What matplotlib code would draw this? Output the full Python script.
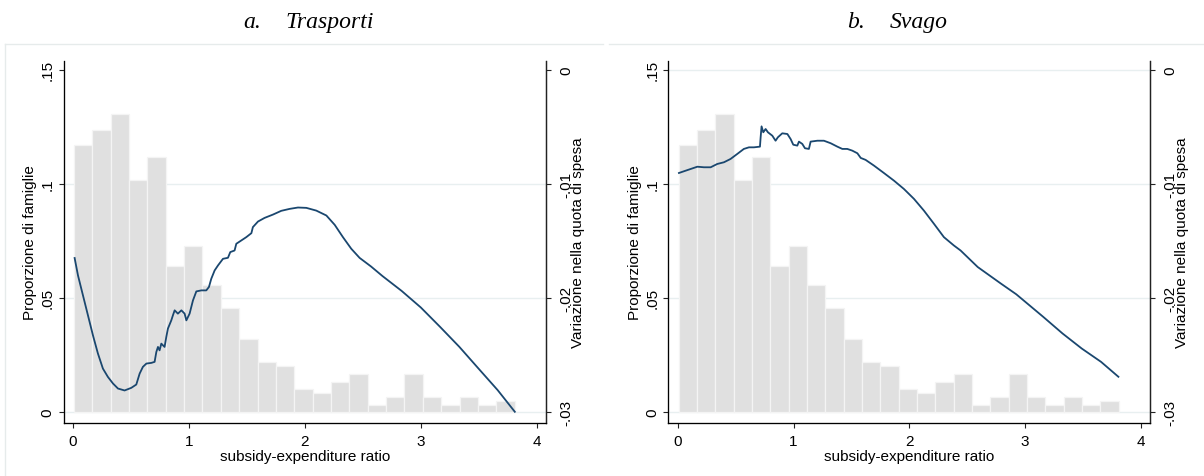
import matplotlib
matplotlib.use("Agg")
import matplotlib.pyplot as plt
from matplotlib.lines import Line2D

# ---- data -------------------------------------------------------------
share_ticks = [0.0, 0.05, 0.10, 0.15]
share_labels = ["0", ".05", ".1", ".15"]
change_ticks = [-0.03, -0.02, -0.01, 0.0]
change_labels = ["-.03", "-.02", "-.01", "0"]
ratio_ticks = [0, 1, 2, 3, 4]

# histogram of the subsidy-expenditure ratio (24 equal bins)
hist_lo, hist_hi = 0.006, 3.81
hist_share = [0.1171, 0.1237, 0.1306, 0.1018, 0.1117, 0.0641, 0.0727, 0.0558,
              0.0457, 0.0320, 0.0219, 0.0202, 0.0102, 0.0082, 0.0131, 0.0166,
              0.0031, 0.0066, 0.0166, 0.0066, 0.0031, 0.0066, 0.0031, 0.0048]

# change in expenditure share, transport
trasporti_x = [0.013, 0.042, 0.085, 0.128, 0.171, 0.214, 0.257, 0.300, 0.344,
               0.387, 0.444, 0.502, 0.545, 0.574, 0.602, 0.632, 0.675, 0.703,
               0.718, 0.732, 0.746, 0.761, 0.789, 0.804, 0.818, 0.847, 0.861,
               0.876, 0.904, 0.934, 0.962, 0.977, 1.005, 1.034, 1.063, 1.106,
               1.149, 1.172, 1.192, 1.221, 1.250, 1.293, 1.336, 1.356, 1.393,
               1.408, 1.451, 1.494, 1.538, 1.551, 1.595, 1.652, 1.724, 1.796,
               1.868, 1.940, 2.012, 2.098, 2.185, 2.257, 2.328, 2.400, 2.472,
               2.570, 2.670, 2.835, 3.000, 3.166, 3.332, 3.497, 3.663, 3.811]
trasporti_y = [-0.01651, -0.01804, -0.01979, -0.02154, -0.02329, -0.02489,
               -0.02621, -0.02694, -0.02752, -0.02796, -0.02813, -0.02790,
               -0.02761, -0.02665, -0.02606, -0.02577, -0.02571, -0.02562,
               -0.02475, -0.02431, -0.02461, -0.02402, -0.02431, -0.02343,
               -0.02270, -0.02198, -0.02154, -0.02110, -0.02139, -0.02110,
               -0.02139, -0.02198, -0.02139, -0.02023, -0.01944, -0.01935,
               -0.01935, -0.01905, -0.01833, -0.01760, -0.01716, -0.01658,
               -0.01649, -0.01599, -0.01585, -0.01526, -0.01497, -0.01468,
               -0.01433, -0.01380, -0.01331, -0.01299, -0.01270, -0.01237,
               -0.01220, -0.01208, -0.01211, -0.01235, -0.01278, -0.01360,
               -0.01468, -0.01570, -0.01650, -0.01725, -0.01810, -0.01940,
               -0.02085, -0.02255, -0.02430, -0.02620, -0.02810, -0.03000]

# change in expenditure share, leisure
svago_x = [0.009, 0.052, 0.110, 0.168, 0.225, 0.283, 0.340, 0.398, 0.455, 0.513,
           0.570, 0.614, 0.657, 0.709, 0.715, 0.723, 0.738, 0.758, 0.778, 0.816,
           0.844, 0.864, 0.902, 0.946, 0.974, 0.997, 1.032, 1.046, 1.075, 1.098,
           1.132, 1.147, 1.205, 1.262, 1.320, 1.378, 1.421, 1.464, 1.507, 1.551,
           1.580, 1.622, 1.694, 1.780, 1.867, 1.953, 2.040, 2.126, 2.213, 2.299,
           2.385, 2.443, 2.591, 2.791, 2.924, 3.157, 3.324, 3.490, 3.657, 3.807]
svago_y = [-0.00905, -0.00890, -0.00870, -0.00850, -0.00855, -0.00855, -0.00826,
           -0.00811, -0.00782, -0.00738, -0.00694, -0.00680, -0.00680, -0.00674,
           -0.00592, -0.00496, -0.00548, -0.00519, -0.00548, -0.00578, -0.00622,
           -0.00592, -0.00557, -0.00563, -0.00607, -0.00657, -0.00665, -0.00630,
           -0.00650, -0.00688, -0.00694, -0.00630, -0.00622, -0.00622, -0.00644,
           -0.00674, -0.00694, -0.00694, -0.00709, -0.00732, -0.00773, -0.00790,
           -0.00840, -0.00905, -0.00972, -0.01045, -0.01132, -0.01235, -0.01351,
           -0.01468, -0.01541, -0.01585, -0.01730, -0.01875, -0.01969, -0.02167,
           -0.02313, -0.02445, -0.02562, -0.02693]

panels = [
    ("a.", "Trasporti", trasporti_x, trasporti_y, [0.0, 0.05, 0.10]),
    ("b.", "Svago", svago_x, svago_y, [0.0, 0.05, 0.10, 0.15]),
]

# ---- style --------------------------------------------------------------
W, H = 1204, 477
SANS = "Liberation Sans"
SERIF = "Liberation Serif"
BAR = "#e0e0e0"
BAR_EDGE = "#f4f4f4"
LINE = "#1a476f"
GRID = "#e8eff0"
FRAME = "#e6ebeb"
AXC = "#222222"

plt.rcParams["font.family"] = [SANS, "DejaVu Sans"]

fig = plt.figure(figsize=(W / 100, H / 100), dpi=100)
fig.patch.set_facecolor("white")


def fx(px):
    return px / W


def fy(py):
    return 1 - py / H


# left/right spine positions (px) for each panel
spines_px = [(63.5, 546.0), (668.3, 1150.0)]
top_px, bottom_px = 61.7, 423.5

n_bins = len(hist_share)
bin_w = (hist_hi - hist_lo) / n_bins
bin_left = [hist_lo + i * bin_w for i in range(n_bins)]

share_lim = (-0.0047, 0.154)
change_lim = (0.2 * share_lim[0] - 0.03, 0.2 * share_lim[1] - 0.03)

for (lab, name, lx, ly, grid_at), (xl, xr) in zip(panels, spines_px):
    ax = fig.add_axes([fx(xl), fy(bottom_px), fx(xr - xl), (bottom_px - top_px) / H])
    ax.set_facecolor("none")
    for yv in grid_at:
        ax.axhline(yv, color=GRID, lw=1.0, zorder=0)
    ax.bar(bin_left, hist_share, width=bin_w, align="edge", color=BAR,
           edgecolor=BAR_EDGE, linewidth=0.9, zorder=1)
    ax.set_xlim(-0.083, 4.08)
    ax.set_ylim(*share_lim)
    ax.set_xticks(ratio_ticks)
    ax.set_xticklabels([str(t) for t in ratio_ticks])
    ax.set_yticks(share_ticks)
    ax.set_yticklabels(share_labels, rotation=90, va="center")
    ax.tick_params(axis="both", direction="out", length=3.6, width=0.8,
                   color=AXC, labelsize=11, labelcolor="black")
    ax.tick_params(axis="x", pad=4.5)
    ax.tick_params(axis="y", pad=3)
    for s in ["top"]:
        ax.spines[s].set_visible(False)
    for s in ["left", "bottom", "right"]:
        ax.spines[s].set_color(AXC)
        ax.spines[s].set_linewidth(0.9)

    ax2 = ax.twinx()
    ax2.plot(lx, ly, color=LINE, lw=1.3, zorder=3, solid_joinstyle="round")
    ax2.set_ylim(*change_lim)
    ax2.set_yticks(change_ticks)
    ax2.set_yticklabels(change_labels, rotation=90, va="center")
    ax2.tick_params(axis="y", direction="out", length=3.6, width=0.8,
                    color=AXC, labelsize=11, pad=6)
    ax2.spines["top"].set_visible(False)
    ax2.spines["right"].set_color(AXC)
    ax2.spines["right"].set_linewidth(0.9)

    # axis titles
    cx = (xl + xr) / 2
    cy = (top_px + bottom_px) / 2
    fig.text(fx(cx), fy(457), "subsidy-expenditure ratio", ha="center",
             va="center", fontsize=11)
    fig.text(fx(xl - 33), fy(cy), "Proporzione di famiglie", rotation=90,
             ha="center", va="center", fontsize=11)
    fig.text(fx(xr + 32), fy(cy), "Variazione nella quota di spesa",
             rotation=90, ha="center", va="center", fontsize=11)

    # panel heading
    fig.text(fx(cx - 44), fy(28), lab, ha="right", va="baseline",
             fontsize=17, family=SERIF, style="italic")
    fig.text(fx(cx - 19), fy(28), name, ha="left", va="baseline",
             fontsize=17, family=SERIF, style="italic")

# light outlines of the two graph regions
fig.add_artist(Line2D([fx(4.7), fx(4.7)], [fy(45), fy(477)], color=FRAME, lw=1.0))
fig.add_artist(Line2D([fx(4.7), fx(603)], [fy(45), fy(45)], color=FRAME, lw=1.0))
fig.add_artist(Line2D([fx(609), fx(1204)], [fy(45), fy(45)], color=FRAME, lw=1.0))

fig.savefig("out.png", dpi=100, facecolor="white")
